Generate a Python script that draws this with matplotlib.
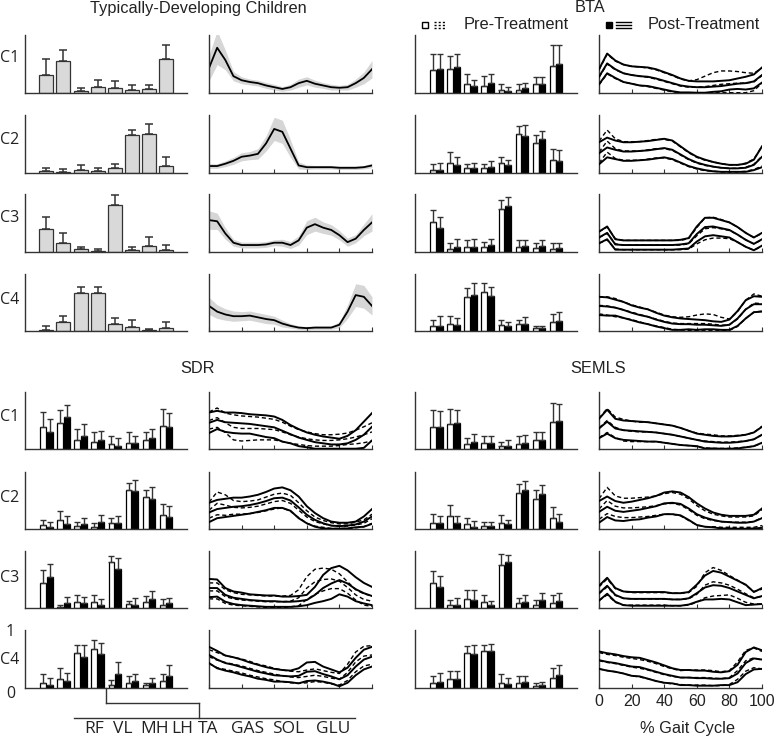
import numpy as np
import matplotlib
matplotlib.use("Agg")
import matplotlib.pyplot as plt
from matplotlib.lines import Line2D
from matplotlib.patches import Rectangle

# ---------------- data ----------------
muscles = ['RF', 'VL', 'MH', 'LH', 'TA', 'GAS', 'SOL', 'GLU']
components = ['C1', 'C2', 'C3', 'C4']
gait_pct = [0, 5, 10, 15, 20, 25, 30, 35, 40, 45, 50, 55, 60, 65, 70, 75, 80, 85, 90, 95, 100]
gait_ticks = [0, 20, 40, 60, 80, 100]

# Typically-developing: muscle weights (mean, sd)
td_c1_w = [0.31, 0.56, 0.03, 0.10, 0.08, 0.05, 0.07, 0.58]
td_c1_wsd = [0.27, 0.19, 0.06, 0.12, 0.12, 0.08, 0.06, 0.25]
td_c2_w = [0.03, 0.02, 0.06, 0.03, 0.08, 0.65, 0.68, 0.12]
td_c2_wsd = [0.06, 0.05, 0.08, 0.05, 0.07, 0.09, 0.16, 0.16]
td_c3_w = [0.39, 0.16, 0.05, 0.02, 0.81, 0.04, 0.11, 0.03]
td_c3_wsd = [0.21, 0.16, 0.04, 0.04, 0.17, 0.05, 0.15, 0.09]
td_c4_w = [0.02, 0.15, 0.67, 0.67, 0.12, 0.07, 0.02, 0.05]
td_c4_wsd = [0.06, 0.12, 0.10, 0.10, 0.10, 0.12, 0.02, 0.10]

# Typically-developing: activation curves (mean, sd)
td_c1_act = [0.43, 0.78, 0.57, 0.29, 0.22, 0.19, 0.17, 0.13, 0.10, 0.07, 0.10, 0.17, 0.21, 0.16, 0.13, 0.10, 0.09, 0.10, 0.17, 0.26, 0.41]
td_c1_asd = [0.22, 0.29, 0.17, 0.08, 0.06, 0.05, 0.05, 0.05, 0.05, 0.04, 0.05, 0.07, 0.07, 0.06, 0.05, 0.05, 0.04, 0.05, 0.07, 0.10, 0.15]
td_c2_act = [0.12, 0.12, 0.16, 0.21, 0.28, 0.30, 0.33, 0.51, 0.76, 0.71, 0.42, 0.13, 0.10, 0.10, 0.10, 0.10, 0.09, 0.09, 0.09, 0.10, 0.13]
td_c2_asd = [0.04, 0.04, 0.05, 0.06, 0.07, 0.07, 0.09, 0.13, 0.20, 0.20, 0.15, 0.06, 0.04, 0.03, 0.03, 0.03, 0.03, 0.03, 0.03, 0.03, 0.04]
td_c3_act = [0.55, 0.53, 0.32, 0.16, 0.12, 0.12, 0.12, 0.13, 0.16, 0.16, 0.12, 0.20, 0.42, 0.48, 0.42, 0.38, 0.29, 0.17, 0.23, 0.38, 0.51]
td_c3_asd = [0.16, 0.14, 0.10, 0.06, 0.05, 0.05, 0.05, 0.05, 0.05, 0.06, 0.06, 0.08, 0.12, 0.12, 0.10, 0.09, 0.08, 0.07, 0.07, 0.10, 0.15]
td_c4_act = [0.44, 0.34, 0.29, 0.26, 0.26, 0.27, 0.24, 0.21, 0.19, 0.13, 0.09, 0.06, 0.05, 0.06, 0.06, 0.06, 0.11, 0.34, 0.63, 0.60, 0.44]
td_c4_asd = [0.15, 0.12, 0.10, 0.09, 0.08, 0.08, 0.08, 0.08, 0.07, 0.06, 0.04, 0.03, 0.03, 0.03, 0.03, 0.03, 0.05, 0.12, 0.20, 0.20, 0.16]

# BTA weights
bta_c1_pre_w = [0.40, 0.41, 0.16, 0.12, 0.05, 0.06, 0.15, 0.47]
bta_c1_pre_wsd = [0.28, 0.23, 0.16, 0.17, 0.10, 0.10, 0.13, 0.35]
bta_c1_post_w = [0.41, 0.44, 0.12, 0.17, 0.04, 0.09, 0.16, 0.50]
bta_c1_post_wsd = [0.27, 0.24, 0.10, 0.15, 0.07, 0.09, 0.12, 0.32]
bta_c2_pre_w = [0.06, 0.18, 0.08, 0.08, 0.17, 0.68, 0.52, 0.22]
bta_c2_pre_wsd = [0.10, 0.19, 0.08, 0.08, 0.11, 0.13, 0.14, 0.19]
bta_c2_post_w = [0.06, 0.14, 0.09, 0.11, 0.13, 0.64, 0.59, 0.20]
bta_c2_post_wsd = [0.12, 0.14, 0.09, 0.09, 0.09, 0.19, 0.14, 0.19]
bta_c3_pre_w = [0.51, 0.06, 0.09, 0.09, 0.75, 0.09, 0.07, 0.06]
bta_c3_pre_wsd = [0.21, 0.09, 0.12, 0.09, 0.15, 0.12, 0.08, 0.10]
bta_c3_post_w = [0.41, 0.08, 0.09, 0.12, 0.80, 0.11, 0.10, 0.07]
bta_c3_post_wsd = [0.19, 0.14, 0.13, 0.10, 0.14, 0.10, 0.10, 0.09]
bta_c4_pre_w = [0.08, 0.13, 0.59, 0.69, 0.10, 0.12, 0.05, 0.16]
bta_c4_pre_wsd = [0.12, 0.14, 0.16, 0.15, 0.09, 0.08, 0.04, 0.14]
bta_c4_post_w = [0.09, 0.11, 0.64, 0.61, 0.08, 0.13, 0.05, 0.18]
bta_c4_post_wsd = [0.18, 0.11, 0.20, 0.16, 0.07, 0.12, 0.04, 0.15]

# SDR weights
sdr_c1_pre_w = [0.38, 0.45, 0.16, 0.13, 0.08, 0.11, 0.16, 0.41]
sdr_c1_pre_wsd = [0.27, 0.23, 0.19, 0.16, 0.15, 0.18, 0.14, 0.30]
sdr_c1_post_w = [0.30, 0.57, 0.23, 0.15, 0.05, 0.11, 0.19, 0.38]
sdr_c1_post_wsd = [0.22, 0.21, 0.20, 0.17, 0.15, 0.11, 0.16, 0.26]
sdr_c2_pre_w = [0.07, 0.16, 0.05, 0.04, 0.10, 0.68, 0.56, 0.24]
sdr_c2_pre_wsd = [0.08, 0.16, 0.07, 0.06, 0.10, 0.13, 0.12, 0.19]
sdr_c2_post_w = [0.04, 0.09, 0.09, 0.12, 0.11, 0.67, 0.53, 0.21]
sdr_c2_post_wsd = [0.08, 0.13, 0.10, 0.13, 0.11, 0.19, 0.20, 0.20]
sdr_c3_pre_w = [0.44, 0.02, 0.10, 0.10, 0.80, 0.07, 0.11, 0.06]
sdr_c3_pre_wsd = [0.23, 0.04, 0.13, 0.13, 0.11, 0.06, 0.10, 0.10]
sdr_c3_post_w = [0.55, 0.09, 0.08, 0.05, 0.68, 0.06, 0.15, 0.08]
sdr_c3_post_wsd = [0.23, 0.10, 0.11, 0.10, 0.20, 0.12, 0.15, 0.10]
sdr_c4_pre_w = [0.08, 0.16, 0.60, 0.67, 0.06, 0.09, 0.05, 0.12]
sdr_c4_pre_wsd = [0.17, 0.18, 0.14, 0.16, 0.08, 0.11, 0.04, 0.13]
sdr_c4_post_w = [0.05, 0.12, 0.54, 0.59, 0.24, 0.12, 0.08, 0.21]
sdr_c4_post_wsd = [0.12, 0.14, 0.21, 0.19, 0.21, 0.12, 0.10, 0.19]

# SEMLS weights
semls_c1_pre_w = [0.38, 0.44, 0.09, 0.11, 0.05, 0.09, 0.15, 0.47]
semls_c1_pre_wsd = [0.30, 0.26, 0.11, 0.12, 0.08, 0.14, 0.14, 0.34]
semls_c1_post_w = [0.38, 0.46, 0.12, 0.11, 0.05, 0.11, 0.16, 0.49]
semls_c1_post_wsd = [0.29, 0.22, 0.14, 0.12, 0.11, 0.14, 0.14, 0.30]
semls_c2_pre_w = [0.11, 0.23, 0.08, 0.05, 0.11, 0.64, 0.53, 0.19]
semls_c2_pre_wsd = [0.15, 0.19, 0.12, 0.08, 0.14, 0.15, 0.15, 0.20]
semls_c2_post_w = [0.10, 0.10, 0.04, 0.06, 0.08, 0.68, 0.61, 0.12]
semls_c2_post_wsd = [0.12, 0.13, 0.10, 0.07, 0.08, 0.17, 0.16, 0.14]
semls_c3_pre_w = [0.43, 0.05, 0.15, 0.11, 0.75, 0.08, 0.06, 0.08]
semls_c3_pre_wsd = [0.22, 0.09, 0.17, 0.12, 0.19, 0.09, 0.08, 0.15]
semls_c3_post_w = [0.36, 0.06, 0.14, 0.05, 0.80, 0.11, 0.14, 0.13]
semls_c3_post_wsd = [0.20, 0.12, 0.18, 0.07, 0.13, 0.12, 0.12, 0.13]
semls_c4_pre_w = [0.08, 0.16, 0.61, 0.64, 0.09, 0.09, 0.03, 0.17]
semls_c4_pre_wsd = [0.13, 0.13, 0.11, 0.11, 0.15, 0.11, 0.05, 0.17]
semls_c4_post_w = [0.11, 0.16, 0.59, 0.63, 0.07, 0.11, 0.05, 0.22]
semls_c4_post_wsd = [0.15, 0.13, 0.15, 0.13, 0.10, 0.10, 0.06, 0.18]

# BTA activation curves
bta_c1_pre_act = [0.27, 0.50, 0.40, 0.34, 0.31, 0.29, 0.27, 0.24, 0.20, 0.16, 0.12, 0.10, 0.10, 0.11, 0.13, 0.15, 0.16, 0.17, 0.17, 0.19, 0.30]
bta_c1_pre_asd = [0.13, 0.17, 0.15, 0.15, 0.15, 0.16, 0.16, 0.16, 0.15, 0.14, 0.12, 0.11, 0.13, 0.18, 0.22, 0.23, 0.22, 0.20, 0.18, 0.15, 0.13]
bta_c1_post_act = [0.28, 0.51, 0.41, 0.34, 0.31, 0.29, 0.28, 0.25, 0.21, 0.17, 0.13, 0.11, 0.10, 0.10, 0.11, 0.12, 0.14, 0.16, 0.17, 0.20, 0.31]
bta_c1_post_asd = [0.13, 0.17, 0.15, 0.15, 0.15, 0.16, 0.16, 0.16, 0.15, 0.14, 0.12, 0.10, 0.10, 0.10, 0.09, 0.09, 0.08, 0.09, 0.11, 0.12, 0.13]
bta_c2_pre_act = [0.36, 0.55, 0.42, 0.38, 0.38, 0.38, 0.40, 0.42, 0.42, 0.39, 0.31, 0.23, 0.17, 0.13, 0.11, 0.09, 0.08, 0.08, 0.10, 0.15, 0.29]
bta_c2_pre_asd = [0.19, 0.19, 0.17, 0.16, 0.16, 0.16, 0.16, 0.16, 0.16, 0.16, 0.14, 0.12, 0.10, 0.09, 0.08, 0.07, 0.06, 0.06, 0.07, 0.09, 0.17]
bta_c2_post_act = [0.34, 0.44, 0.40, 0.37, 0.37, 0.38, 0.39, 0.41, 0.43, 0.40, 0.32, 0.24, 0.18, 0.14, 0.11, 0.09, 0.08, 0.08, 0.09, 0.14, 0.28]
bta_c2_post_asd = [0.19, 0.17, 0.16, 0.16, 0.16, 0.16, 0.16, 0.16, 0.16, 0.16, 0.14, 0.12, 0.10, 0.09, 0.08, 0.07, 0.06, 0.06, 0.07, 0.09, 0.18]
bta_c3_pre_act = [0.25, 0.32, 0.14, 0.12, 0.12, 0.12, 0.12, 0.12, 0.12, 0.12, 0.12, 0.14, 0.28, 0.40, 0.42, 0.40, 0.37, 0.30, 0.21, 0.14, 0.21]
bta_c3_pre_asd = [0.10, 0.11, 0.09, 0.08, 0.08, 0.08, 0.08, 0.08, 0.08, 0.08, 0.08, 0.09, 0.14, 0.19, 0.18, 0.16, 0.14, 0.13, 0.12, 0.11, 0.11]
bta_c3_post_act = [0.25, 0.33, 0.13, 0.12, 0.12, 0.12, 0.12, 0.12, 0.12, 0.12, 0.13, 0.15, 0.31, 0.43, 0.44, 0.41, 0.38, 0.30, 0.21, 0.14, 0.22]
bta_c3_post_asd = [0.10, 0.11, 0.09, 0.08, 0.08, 0.08, 0.08, 0.08, 0.08, 0.08, 0.08, 0.09, 0.13, 0.16, 0.15, 0.14, 0.13, 0.13, 0.12, 0.11, 0.11]
bta_c4_pre_act = [0.45, 0.44, 0.41, 0.37, 0.33, 0.29, 0.25, 0.21, 0.17, 0.14, 0.13, 0.13, 0.13, 0.13, 0.12, 0.10, 0.11, 0.21, 0.38, 0.49, 0.48]
bta_c4_pre_asd = [0.15, 0.16, 0.16, 0.14, 0.13, 0.13, 0.13, 0.12, 0.11, 0.11, 0.11, 0.12, 0.15, 0.17, 0.17, 0.14, 0.10, 0.13, 0.16, 0.16, 0.13]
bta_c4_post_act = [0.44, 0.43, 0.41, 0.37, 0.32, 0.28, 0.25, 0.20, 0.16, 0.13, 0.12, 0.12, 0.11, 0.11, 0.10, 0.09, 0.11, 0.22, 0.38, 0.47, 0.47]
bta_c4_post_asd = [0.16, 0.16, 0.14, 0.14, 0.13, 0.13, 0.13, 0.12, 0.11, 0.11, 0.10, 0.09, 0.09, 0.08, 0.07, 0.07, 0.09, 0.13, 0.16, 0.14, 0.13]

# SDR activation curves
sdr_c1_pre_act = [0.50, 0.55, 0.46, 0.38, 0.36, 0.36, 0.36, 0.35, 0.34, 0.30, 0.25, 0.21, 0.18, 0.16, 0.15, 0.15, 0.16, 0.18, 0.21, 0.25, 0.30]
sdr_c1_pre_asd = [0.15, 0.17, 0.17, 0.22, 0.22, 0.21, 0.20, 0.19, 0.18, 0.17, 0.15, 0.13, 0.12, 0.11, 0.10, 0.10, 0.10, 0.10, 0.12, 0.14, 0.16]
sdr_c1_post_act = [0.46, 0.51, 0.47, 0.46, 0.45, 0.44, 0.42, 0.40, 0.38, 0.32, 0.26, 0.20, 0.16, 0.12, 0.10, 0.08, 0.08, 0.10, 0.16, 0.25, 0.39]
sdr_c1_post_asd = [0.18, 0.16, 0.17, 0.18, 0.18, 0.17, 0.18, 0.19, 0.19, 0.19, 0.16, 0.15, 0.13, 0.13, 0.12, 0.12, 0.10, 0.13, 0.17, 0.23, 0.24]
sdr_c2_pre_act = [0.33, 0.45, 0.42, 0.38, 0.37, 0.38, 0.40, 0.44, 0.48, 0.50, 0.45, 0.33, 0.21, 0.13, 0.09, 0.06, 0.05, 0.05, 0.07, 0.10, 0.18]
sdr_c2_pre_asd = [0.14, 0.20, 0.18, 0.12, 0.11, 0.11, 0.11, 0.12, 0.13, 0.13, 0.14, 0.13, 0.11, 0.08, 0.06, 0.05, 0.04, 0.04, 0.05, 0.06, 0.08]
sdr_c2_post_act = [0.29, 0.35, 0.37, 0.39, 0.40, 0.42, 0.45, 0.49, 0.54, 0.55, 0.50, 0.38, 0.25, 0.16, 0.10, 0.06, 0.05, 0.06, 0.08, 0.13, 0.22]
sdr_c2_post_asd = [0.17, 0.16, 0.16, 0.16, 0.15, 0.15, 0.15, 0.16, 0.17, 0.18, 0.18, 0.19, 0.15, 0.12, 0.09, 0.07, 0.06, 0.05, 0.05, 0.09, 0.13]
sdr_c3_pre_act = [0.30, 0.30, 0.20, 0.16, 0.14, 0.13, 0.12, 0.11, 0.11, 0.11, 0.12, 0.18, 0.35, 0.46, 0.50, 0.51, 0.47, 0.36, 0.23, 0.15, 0.12]
sdr_c3_pre_asd = [0.14, 0.14, 0.12, 0.11, 0.10, 0.10, 0.10, 0.10, 0.10, 0.10, 0.10, 0.14, 0.20, 0.22, 0.20, 0.17, 0.13, 0.10, 0.09, 0.10, 0.09]
sdr_c3_post_act = [0.35, 0.35, 0.23, 0.18, 0.16, 0.14, 0.13, 0.12, 0.12, 0.11, 0.11, 0.12, 0.14, 0.23, 0.35, 0.43, 0.49, 0.43, 0.33, 0.26, 0.21]
sdr_c3_post_asd = [0.16, 0.15, 0.12, 0.11, 0.11, 0.10, 0.10, 0.10, 0.10, 0.09, 0.09, 0.09, 0.09, 0.14, 0.23, 0.27, 0.25, 0.23, 0.21, 0.18, 0.16]
sdr_c4_pre_act = [0.54, 0.48, 0.44, 0.41, 0.38, 0.34, 0.30, 0.27, 0.24, 0.21, 0.19, 0.18, 0.20, 0.22, 0.20, 0.17, 0.15, 0.27, 0.45, 0.55, 0.57]
sdr_c4_pre_asd = [0.12, 0.13, 0.12, 0.12, 0.12, 0.12, 0.11, 0.11, 0.10, 0.10, 0.10, 0.10, 0.11, 0.11, 0.10, 0.10, 0.10, 0.14, 0.17, 0.17, 0.16]
sdr_c4_post_act = [0.57, 0.49, 0.43, 0.40, 0.36, 0.32, 0.28, 0.25, 0.22, 0.21, 0.20, 0.21, 0.28, 0.29, 0.24, 0.20, 0.15, 0.22, 0.37, 0.49, 0.54]
sdr_c4_post_asd = [0.14, 0.15, 0.13, 0.13, 0.13, 0.12, 0.12, 0.11, 0.11, 0.10, 0.10, 0.13, 0.16, 0.16, 0.13, 0.12, 0.12, 0.13, 0.15, 0.17, 0.17]

# SEMLS activation curves
semls_c1_pre_act = [0.37, 0.50, 0.38, 0.33, 0.31, 0.30, 0.30, 0.29, 0.27, 0.25, 0.22, 0.19, 0.16, 0.14, 0.13, 0.12, 0.12, 0.13, 0.14, 0.17, 0.25]
semls_c1_pre_asd = [0.17, 0.21, 0.18, 0.19, 0.18, 0.17, 0.17, 0.16, 0.16, 0.16, 0.15, 0.13, 0.12, 0.12, 0.12, 0.11, 0.11, 0.11, 0.11, 0.12, 0.15]
semls_c1_post_act = [0.36, 0.48, 0.36, 0.33, 0.32, 0.31, 0.30, 0.29, 0.27, 0.25, 0.22, 0.19, 0.16, 0.13, 0.12, 0.11, 0.11, 0.12, 0.14, 0.17, 0.25]
semls_c1_post_asd = [0.17, 0.21, 0.17, 0.17, 0.17, 0.17, 0.17, 0.16, 0.16, 0.16, 0.15, 0.13, 0.11, 0.12, 0.11, 0.11, 0.11, 0.11, 0.11, 0.12, 0.14]
semls_c2_pre_act = [0.35, 0.50, 0.40, 0.37, 0.37, 0.38, 0.39, 0.41, 0.44, 0.45, 0.42, 0.34, 0.24, 0.18, 0.15, 0.13, 0.12, 0.12, 0.12, 0.13, 0.20]
semls_c2_pre_asd = [0.18, 0.23, 0.18, 0.17, 0.17, 0.17, 0.17, 0.17, 0.18, 0.19, 0.19, 0.19, 0.17, 0.14, 0.11, 0.10, 0.09, 0.09, 0.09, 0.10, 0.14]
semls_c2_post_act = [0.30, 0.39, 0.32, 0.30, 0.32, 0.34, 0.37, 0.40, 0.45, 0.46, 0.44, 0.36, 0.26, 0.20, 0.16, 0.13, 0.12, 0.11, 0.11, 0.13, 0.19]
semls_c2_post_asd = [0.19, 0.18, 0.17, 0.16, 0.16, 0.17, 0.17, 0.18, 0.19, 0.20, 0.20, 0.20, 0.19, 0.16, 0.13, 0.12, 0.11, 0.12, 0.12, 0.12, 0.17]
semls_c3_pre_act = [0.25, 0.37, 0.22, 0.17, 0.16, 0.16, 0.16, 0.16, 0.16, 0.15, 0.15, 0.16, 0.24, 0.40, 0.46, 0.44, 0.40, 0.33, 0.25, 0.18, 0.20]
semls_c3_pre_asd = [0.12, 0.14, 0.12, 0.12, 0.11, 0.11, 0.11, 0.11, 0.11, 0.11, 0.11, 0.11, 0.14, 0.22, 0.25, 0.22, 0.17, 0.16, 0.15, 0.11, 0.13]
semls_c3_post_act = [0.26, 0.39, 0.23, 0.17, 0.16, 0.16, 0.16, 0.16, 0.16, 0.15, 0.15, 0.17, 0.26, 0.36, 0.40, 0.39, 0.35, 0.29, 0.23, 0.17, 0.21]
semls_c3_post_asd = [0.13, 0.14, 0.12, 0.12, 0.12, 0.12, 0.12, 0.12, 0.12, 0.11, 0.11, 0.11, 0.15, 0.21, 0.25, 0.23, 0.20, 0.19, 0.18, 0.11, 0.14]
semls_c4_pre_act = [0.47, 0.44, 0.42, 0.39, 0.36, 0.34, 0.31, 0.27, 0.23, 0.20, 0.18, 0.18, 0.18, 0.18, 0.17, 0.16, 0.18, 0.30, 0.47, 0.52, 0.48]
semls_c4_pre_asd = [0.14, 0.14, 0.14, 0.14, 0.15, 0.15, 0.15, 0.15, 0.14, 0.13, 0.12, 0.13, 0.13, 0.13, 0.13, 0.12, 0.12, 0.15, 0.18, 0.17, 0.15]
semls_c4_post_act = [0.48, 0.45, 0.43, 0.40, 0.37, 0.36, 0.32, 0.28, 0.24, 0.21, 0.18, 0.18, 0.17, 0.17, 0.16, 0.16, 0.17, 0.25, 0.43, 0.51, 0.49]
semls_c4_post_asd = [0.15, 0.15, 0.15, 0.15, 0.16, 0.16, 0.16, 0.16, 0.15, 0.13, 0.13, 0.13, 0.13, 0.13, 0.12, 0.11, 0.12, 0.15, 0.19, 0.19, 0.16]

# ---------------- assemble ----------------
td_w = [(td_c1_w, td_c1_wsd), (td_c2_w, td_c2_wsd), (td_c3_w, td_c3_wsd), (td_c4_w, td_c4_wsd)]
td_act = [(td_c1_act, td_c1_asd), (td_c2_act, td_c2_asd), (td_c3_act, td_c3_asd), (td_c4_act, td_c4_asd)]

groups = {
    'BTA': dict(
        w=[(bta_c1_pre_w, bta_c1_pre_wsd, bta_c1_post_w, bta_c1_post_wsd),
           (bta_c2_pre_w, bta_c2_pre_wsd, bta_c2_post_w, bta_c2_post_wsd),
           (bta_c3_pre_w, bta_c3_pre_wsd, bta_c3_post_w, bta_c3_post_wsd),
           (bta_c4_pre_w, bta_c4_pre_wsd, bta_c4_post_w, bta_c4_post_wsd)],
        a=[(bta_c1_pre_act, bta_c1_pre_asd, bta_c1_post_act, bta_c1_post_asd),
           (bta_c2_pre_act, bta_c2_pre_asd, bta_c2_post_act, bta_c2_post_asd),
           (bta_c3_pre_act, bta_c3_pre_asd, bta_c3_post_act, bta_c3_post_asd),
           (bta_c4_pre_act, bta_c4_pre_asd, bta_c4_post_act, bta_c4_post_asd)]),
    'SDR': dict(
        w=[(sdr_c1_pre_w, sdr_c1_pre_wsd, sdr_c1_post_w, sdr_c1_post_wsd),
           (sdr_c2_pre_w, sdr_c2_pre_wsd, sdr_c2_post_w, sdr_c2_post_wsd),
           (sdr_c3_pre_w, sdr_c3_pre_wsd, sdr_c3_post_w, sdr_c3_post_wsd),
           (sdr_c4_pre_w, sdr_c4_pre_wsd, sdr_c4_post_w, sdr_c4_post_wsd)],
        a=[(sdr_c1_pre_act, sdr_c1_pre_asd, sdr_c1_post_act, sdr_c1_post_asd),
           (sdr_c2_pre_act, sdr_c2_pre_asd, sdr_c2_post_act, sdr_c2_post_asd),
           (sdr_c3_pre_act, sdr_c3_pre_asd, sdr_c3_post_act, sdr_c3_post_asd),
           (sdr_c4_pre_act, sdr_c4_pre_asd, sdr_c4_post_act, sdr_c4_post_asd)]),
    'SEMLS': dict(
        w=[(semls_c1_pre_w, semls_c1_pre_wsd, semls_c1_post_w, semls_c1_post_wsd),
           (semls_c2_pre_w, semls_c2_pre_wsd, semls_c2_post_w, semls_c2_post_wsd),
           (semls_c3_pre_w, semls_c3_pre_wsd, semls_c3_post_w, semls_c3_post_wsd),
           (semls_c4_pre_w, semls_c4_pre_wsd, semls_c4_post_w, semls_c4_post_wsd)],
        a=[(semls_c1_pre_act, semls_c1_pre_asd, semls_c1_post_act, semls_c1_post_asd),
           (semls_c2_pre_act, semls_c2_pre_asd, semls_c2_post_act, semls_c2_post_asd),
           (semls_c3_pre_act, semls_c3_pre_asd, semls_c3_post_act, semls_c3_post_asd),
           (semls_c4_pre_act, semls_c4_pre_asd, semls_c4_post_act, semls_c4_post_asd)]),
}

# ---------------- layout ----------------
W, H = 778, 738
fig = plt.figure(figsize=(W / 100, H / 100), dpi=100)
fig.patch.set_facecolor('white')

TITLE_FONT = 'Liberation Sans'
LABEL_FONT = 'Open Sans'
AX_COL = '#333333'

def add_ax(x0, x1, ytop, ybot):
    return fig.add_axes([x0 / W, 1 - ybot / H, (x1 - x0) / W, (ybot - ytop) / H])

def ftext(x, y, s, **kw):
    fig.text(x / W, 1 - y / H, s, **kw)

def fline(xs, ys, **kw):
    fig.add_artist(Line2D([x / W for x in xs], [1 - y / H for y in ys],
                          transform=fig.transFigure, **kw))

def base_style(ax):
    for s in ['top', 'right']:
        ax.spines[s].set_visible(False)
    for s in ['left', 'bottom']:
        ax.spines[s].set_color(AX_COL)
        ax.spines[s].set_linewidth(1.0)
    ax.set_ylim(0, 1)
    ax.set_yticks([])
    ax.patch.set_alpha(0)

top_rows = [(35, 93), (115, 173), (194, 252), (274, 331)]
bot_rows = [(392, 449), (472, 529), (551, 608), (630, 688)]
left_bar, left_curve = (25, 187), (209, 372)
right_bar, right_curve = (415, 577), (599, 762)

pos = np.arange(1, len(muscles) + 1)
x = np.array(gait_pct)

def bar_ax(col, row):
    ax = add_ax(col[0], col[1], row[0], row[1])
    base_style(ax)
    ax.set_xlim(-0.25, 9.23)
    ax.set_xticks([])
    return ax

def curve_ax(col, row, labels=False):
    ax = add_ax(col[0], col[1], row[0], row[1])
    base_style(ax)
    ax.set_xlim(0, 100)
    ax.set_xticks(gait_ticks)
    ax.tick_params(axis='x', direction='in', length=3, width=0.8, color=AX_COL,
                   labelbottom=labels, labelsize=11.5, pad=4)
    if labels:
        for t in ax.get_xticklabels():
            t.set_fontfamily(TITLE_FONT)
            t.set_color('#222222')
    return ax

# Typically developing
for i, row in enumerate(top_rows):
    ax = bar_ax(left_bar, row)
    w, sd = td_w[i]
    ax.bar(pos, w, width=0.82, color='#d9d9d9', edgecolor=AX_COL, linewidth=0.9, zorder=2)
    ax.errorbar(pos, w, yerr=[np.zeros(len(w)), sd], fmt='none', ecolor=AX_COL,
                elinewidth=1.1, capsize=2.6, capthick=1.1, zorder=3)
    ax2 = curve_ax(left_curve, row)
    m, s = np.array(td_act[i][0]), np.array(td_act[i][1])
    ax2.fill_between(x, np.clip(m - s, 0, None), m + s, color='#d6d6d6', lw=0, zorder=1)
    ax2.plot(x, m, color='black', lw=1.3, zorder=2)

def draw_group(name, bar_col, curve_col, rows, labels_last=False):
    g = groups[name]
    for i, row in enumerate(rows):
        ax = bar_ax(bar_col, row)
        pre, pre_sd, post, post_sd = g['w'][i]
        ax.bar(pos - 0.19, pre, width=0.34, color='white', edgecolor='black', linewidth=0.9, zorder=2)
        ax.bar(pos + 0.19, post, width=0.34, color='black', edgecolor='black', linewidth=0.9, zorder=2)
        ax.errorbar(pos - 0.19, pre, yerr=[np.zeros(8), pre_sd], fmt='none', ecolor=AX_COL,
                    elinewidth=1.0, capsize=2.0, capthick=1.0, zorder=3)
        ax.errorbar(pos + 0.19, post, yerr=[np.zeros(8), post_sd], fmt='none', ecolor=AX_COL,
                    elinewidth=1.0, capsize=2.0, capthick=1.0, zorder=3)
        ax2 = curve_ax(curve_col, row, labels=(labels_last and i == len(rows) - 1))
        pm, ps, qm, qs = [np.array(v) for v in g['a'][i]]
        for yv in (pm, pm + ps, np.clip(pm - ps, 0.005, None)):
            ax2.plot(x, yv, color='black', lw=1.0, ls=(0, (3, 2)), zorder=2)
        for yv in (qm, qm + qs, np.clip(qm - qs, 0.005, None)):
            ax2.plot(x, yv, color='black', lw=1.4, zorder=3)

draw_group('BTA', right_bar, right_curve, top_rows)
draw_group('SDR', left_bar, left_curve, bot_rows)
draw_group('SEMLS', right_bar, right_curve, bot_rows, labels_last=True)

# ---------------- text ----------------
tk = dict(fontfamily=TITLE_FONT, fontsize=11.8, color='#222222', ha='center', va='center')
ftext(198, 8, 'Typically-Developing Children', **tk)
ftext(590, 7, 'BTA', **tk)
ftext(198, 368, 'SDR', **tk)
ftext(598, 368, 'SEMLS', **tk)
ftext(687, 728, '% Gait Cycle', **tk)

lk = dict(fontfamily=LABEL_FONT, fontsize=11.5, color='#222222', ha='left', va='center')
for lab, yy in zip(components, [58, 140, 218, 300]):
    ftext(0, yy, lab, **lk)
for lab, yy in zip(components, [417, 498, 578, 660]):
    ftext(0, yy, lab, **lk)
ftext(6, 632, '1', **lk)
ftext(6, 694, '0', **lk)

# legend
fig.add_artist(Rectangle((422 / W, 1 - 28 / H), 6 / W, 6 / H, transform=fig.transFigure,
                         facecolor='white', edgecolor='black', lw=1.0))
for yy in (22, 25, 28):
    fline([434, 446], [yy, yy], color='black', lw=1.0, ls=(0, (1.5, 1.5)))
ftext(464, 24.5, 'Pre-Treatment', fontfamily=TITLE_FONT, fontsize=11.8, color='#222222',
      ha='left', va='center')
fig.add_artist(Rectangle((606 / W, 1 - 28 / H), 6 / W, 6 / H, transform=fig.transFigure,
                         facecolor='black', edgecolor='black', lw=1.0))
for yy in (22, 25, 28):
    fline([616, 631], [yy, yy], color='black', lw=1.0)
ftext(648, 24.5, 'Post-Treatment', fontfamily=TITLE_FONT, fontsize=11.8, color='#222222',
      ha='left', va='center')

# bottom tree connector and muscle labels
lc = dict(color=AX_COL, lw=1.0)
fline([106, 106], [688, 702.5], **lc)
fline([106, 199], [702.5, 702.5], **lc)
fline([199, 199], [702.5, 718], **lc)
fline([74, 355], [718, 718], **lc)
label_x = [94, 123, 155, 182, 208, 248, 288, 333]
for lab, xx in zip(muscles, label_x):
    ftext(xx, 729, lab, fontfamily=LABEL_FONT, fontsize=12.5, color='#222222',
          ha='center', va='center')

fig.savefig('out.png', dpi=100, facecolor='white')
